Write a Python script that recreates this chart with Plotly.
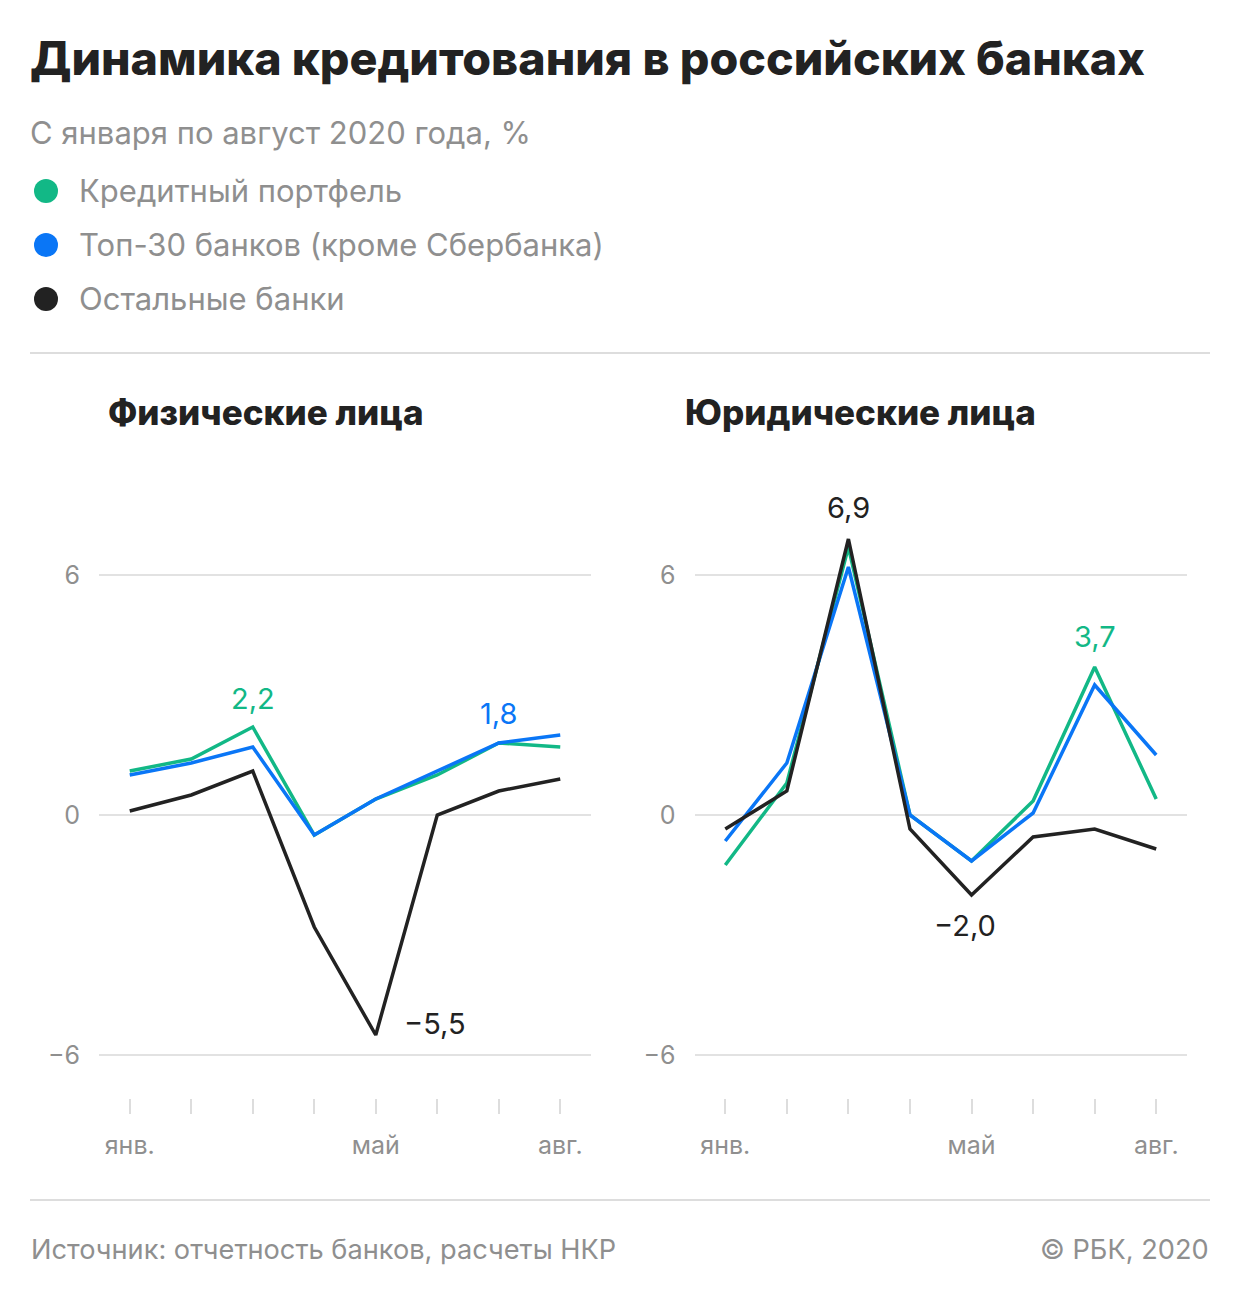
import plotly.graph_objects as go

months = ["янв.", "фев.", "март", "апр.", "май", "июнь", "июль", "авг."]
tick_text = ["янв.", "", "", "", "май", "", "", "авг."]
series_names = ["Кредитный портфель", "Топ-30 банков (кроме Сбербанка)", "Остальные банки"]
series_colors = ["#12B886", "#0A76F6", "#222222"]

# Физические лица
ind_portfolio = [1.1, 1.4, 2.2, -0.5, 0.4, 1.0, 1.8, 1.7]
ind_top30 = [1.0, 1.3, 1.7, -0.5, 0.4, 1.1, 1.8, 2.0]
ind_other = [0.1, 0.5, 1.1, -2.8, -5.5, 0.0, 0.6, 0.9]

# Юридические лица
corp_portfolio = [-1.25, 0.8, 6.7, 0.0, -1.15, 0.35, 3.7, 0.4]
corp_top30 = [-0.65, 1.3, 6.2, 0.0, -1.15, 0.05, 3.25, 1.5]
corp_other = [-0.35, 0.6, 6.9, -0.35, -2.0, -0.55, -0.35, -0.85]

y_ticks = [-6, 0, 6]

W, H = 1240, 1300
OFF = 8  # page body margin
FONT = "Inter, Roboto, sans-serif"
GREY = "#8f8f8f"

def px(x):
    return (x - OFF) / W

def py(y):
    return 1 - (y - OFF) / H

fig = go.Figure()

panels = [
    ("x", "y", [ind_portfolio, ind_top30, ind_other]),
    ("x2", "y2", [corp_portfolio, corp_top30, corp_other]),
]
for xa, ya, data in panels:
    for name, color, vals in zip(series_names, series_colors, data):
        fig.add_trace(go.Scatter(
            x=list(range(len(months))), y=vals, mode="lines", name=name,
            line=dict(color=color, width=3.5), xaxis=xa, yaxis=ya,
            showlegend=False, hoverinfo="skip"))

def fmt(v, nd=1):
    s = f"{abs(v):.{nd}f}".replace(".", ",")
    return ("−" + s) if v < 0 else s

labels = [
    ("x", "y", ind_portfolio, 2, series_colors[0], 0, 29, "center"),
    ("x", "y", ind_top30, 6, series_colors[1], 0, 30, "center"),
    ("x", "y", ind_other, 4, series_colors[2], 26, 12, "left"),
    ("x2", "y2", corp_other, 2, series_colors[2], 0, 32, "center"),
    ("x2", "y2", corp_other, 4, series_colors[2], -7, -30, "center"),
    ("x2", "y2", corp_portfolio, 6, series_colors[0], 0, 31, "center"),
]
for xa, ya, vals, i, color, xs, ys, anchor in labels:
    fig.add_annotation(x=i, y=vals[i], xref=xa, yref=ya, text=fmt(vals[i]),
                       showarrow=False, xshift=xs, yshift=ys, xanchor=anchor,
                       font=dict(size=29, color=color, family=FONT))

yr = [-7.075, 8.375]
ydom = [py(1098), py(480)]
xr = [-0.5, 7.5]
common_x = dict(range=xr, showgrid=False, zeroline=False, showline=False,
                tickmode="array", tickvals=list(range(len(months))), ticktext=tick_text,
                ticks="outside", ticklen=15, tickwidth=2, tickcolor="#dddddd",
                ticklabelstandoff=10,
                tickfont=dict(size=25, color=GREY, family=FONT), fixedrange=True)
common_y = dict(range=yr, domain=ydom, showgrid=True, gridcolor="#e2e2e2", gridwidth=2,
                zeroline=False, showline=False, tickmode="array", tickvals=y_ticks,
                ticktext=[fmt(v, 0) for v in y_ticks], ticks="", ticklabelstandoff=18,
                tickfont=dict(size=25, color=GREY, family=FONT), fixedrange=True)

fig.update_layout(
    width=W, height=H, margin=dict(l=0, r=0, t=0, b=0),
    paper_bgcolor="white", plot_bgcolor="white", showlegend=False,
    font=dict(family=FONT),
    xaxis=dict(domain=[px(99), px(591)], anchor="y", **common_x),
    yaxis=dict(anchor="x", **common_y),
    xaxis2=dict(domain=[px(694.5), px(1187)], anchor="y2", **common_x),
    yaxis2=dict(anchor="x2", **common_y),
)

def ann(text, x, y, size, color, bold=False, xanchor="left"):
    fig.add_annotation(x=px(x), y=py(y), xref="paper", yref="paper", text=text,
                       showarrow=False, xanchor=xanchor, yanchor="middle",
                       font=dict(size=size, color=color, family=FONT,
                                 weight=800 if bold else 400))

ann("Динамика кредитования в российских банках", 28, 58, 46.6, "#222222", bold=True)
ann("С января по август 2020 года, %", 28, 133, 31, GREY)
for k, (name, color) in enumerate(zip(series_names, series_colors)):
    yc = 191 + 54 * k
    ann(name, 77, yc, 31, GREY)
    fig.add_shape(type="circle", xref="paper", yref="paper",
                  x0=px(34), x1=px(58), y0=py(yc - 12), y1=py(yc + 12),
                  fillcolor=color, line=dict(width=0))

ann("Физические лица", 106, 412, 35, "#222222", bold=True)
ann("Юридические лица", 683, 412, 35, "#222222", bold=True)

for yl in (353, 1200):
    fig.add_shape(type="line", xref="paper", yref="paper", x0=px(30), x1=px(1210),
                  y0=py(yl), y1=py(yl), line=dict(color="#dddddd", width=2))

ann("Источник: отчетность банков, расчеты НКР", 29, 1249, 27.2, GREY)
ann("© РБК, 2020", 1211, 1249, 27.2, GREY, xanchor="right")

fig.write_html("out.html")
